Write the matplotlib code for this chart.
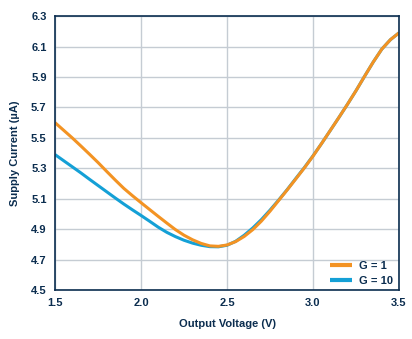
import numpy as np
import matplotlib
matplotlib.use("Agg")
import matplotlib.pyplot as plt

plt.rcParams['font.family'] = ['Liberation Sans', 'DejaVu Sans']

# output voltage (V), shared by both curves
vout = [1.5, 1.55, 1.6, 1.65, 1.7, 1.75, 1.8, 1.85, 1.9, 1.95, 2.0,
        2.05, 2.1, 2.15, 2.2, 2.25, 2.3, 2.35, 2.4, 2.45, 2.5,
        2.55, 2.6, 2.65, 2.7, 2.75, 2.8, 2.85, 2.9, 2.95, 3.0,
        3.05, 3.1, 3.15, 3.2, 3.25, 3.3, 3.35, 3.4, 3.45, 3.5]

# supply current (uA), G = 1
i_g1 = [5.60, 5.55, 5.50, 5.447, 5.393, 5.338, 5.28, 5.223, 5.168, 5.12, 5.074,
        5.029, 4.984, 4.94, 4.897, 4.86, 4.83, 4.806, 4.79, 4.787, 4.796,
        4.818, 4.852, 4.897, 4.953, 5.018, 5.088, 5.158, 5.23, 5.303, 5.38,
        5.463, 5.548, 5.633, 5.72, 5.81, 5.905, 5.998, 6.083, 6.145, 6.19]

# supply current (uA), G = 10
i_g10 = [5.39, 5.35, 5.31, 5.27, 5.228, 5.187, 5.146, 5.105, 5.065, 5.027, 4.99,
         4.952, 4.913, 4.879, 4.851, 4.827, 4.808, 4.794, 4.785, 4.784, 4.794,
         4.82, 4.86, 4.908, 4.963, 5.025, 5.091, 5.16, 5.233, 5.305, 5.382,
         5.463, 5.548, 5.633, 5.72, 5.81, 5.905, 5.998, 6.083, 6.145, 6.19]

x_ticks = [1.5, 2.0, 2.5, 3.0, 3.5]
y_ticks = [4.5, 4.7, 4.9, 5.1, 5.3, 5.5, 5.7, 5.9, 6.1, 6.3]

navy = '#0b2d4f'
orange = '#f39323'
blue = '#14a0d6'

fig = plt.figure(figsize=(4.12, 3.39), dpi=100)
ax = fig.add_axes([0.1335, 0.1445, 0.835, 0.808])

ax.plot(vout, i_g10, color=blue, lw=2.2, label='G = 10', solid_capstyle='butt')
ax.plot(vout, i_g1, color=orange, lw=2.2, label='G = 1', solid_capstyle='butt')

ax.set_xlim(1.5, 3.5)
ax.set_ylim(4.5, 6.3)
ax.set_xticks(x_ticks)
ax.set_yticks(y_ticks)
ax.set_xticklabels([f'{t:.1f}' for t in x_ticks])
ax.set_yticklabels([f'{t:.1f}' for t in y_ticks])
ax.tick_params(length=0, pad=6, labelsize=8, labelcolor=navy)
for lab in ax.get_xticklabels() + ax.get_yticklabels():
    lab.set_fontweight('bold')

ax.grid(True, color='#c5ccd3', lw=1.0)
ax.set_axisbelow(True)
for s in ax.spines.values():
    s.set_color(navy)
    s.set_linewidth(1.2)

ax.set_xlabel('Output Voltage (V)', fontsize=8, fontweight='bold', color=navy, labelpad=8)
ax.set_ylabel('Supply Current (µA)', fontsize=8, fontweight='bold', color=navy, labelpad=8)

h, l = ax.get_legend_handles_labels()
leg = ax.legend(h[::-1], l[::-1], loc='lower right', frameon=False,
                prop={'size': 8, 'weight': 'bold'}, handlelength=2.0,
                handletextpad=0.6, labelspacing=0.45, borderaxespad=0.0,
                bbox_to_anchor=(0.995, 0.0))
for line in leg.get_lines():
    line.set_linewidth(3)
for t in leg.get_texts():
    t.set_color(navy)

fig.savefig('out.png', dpi=100)
